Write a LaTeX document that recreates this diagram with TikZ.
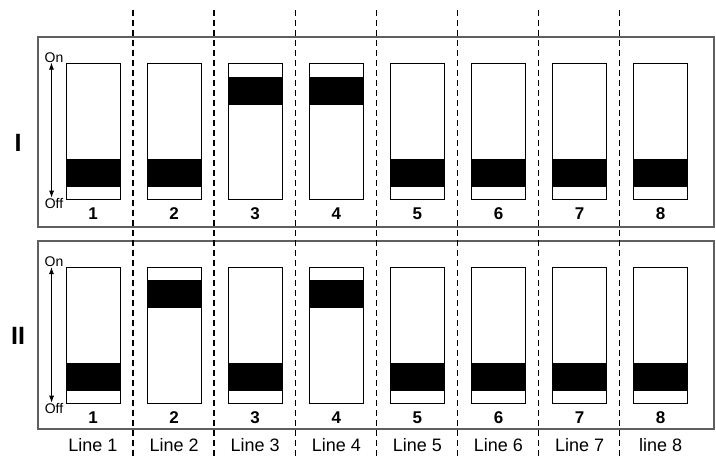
\documentclass[tikz,border=0pt]{standalone}
\usepackage{fontspec}
\setmainfont{Liberation Sans}
\usetikzlibrary{arrows.meta,positioning}
\definecolor{framec}{RGB}{95,95,95}
\tikzset{panel/.style={draw=framec,line width=1.2pt,minimum width=676pt,inner sep=0pt},sw/.style={draw=black,line width=0.8pt,fill=white,minimum width=54pt,minimum height=136pt,inner sep=0pt},knob/.style={fill=black,minimum width=54pt,minimum height=28pt,inner sep=0pt},num/.style={font=\fontsize{17}{17}\selectfont\bfseries,inner sep=0pt},lbl/.style={font=\fontsize{18}{18}\selectfont,inner sep=0pt},tag/.style={font=\fontsize{25}{25}\selectfont\bfseries,inner sep=0pt},onoff/.style={font=\fontsize{14}{14}\selectfont,inner sep=0pt},sep/.style={dash pattern=on 6pt off 4pt,line width=1.3pt},updown/.style={{Latex[length=7pt,width=5pt]}-{Latex[length=7pt,width=5pt]},line width=0.8pt}}

\begin{document}
\begin{tikzpicture}[x=1pt,y=-1pt]
\useasboundingbox (0,0) rectangle (716,456);
\node[panel,minimum height=190pt] (pI) at (376,132) {};
\node[panel,minimum height=188pt] (pII) at (376,335) {};
\node[tag] (tI) at (18,142.5) {I};
\node[tag] (tII) at (18,336) {II};
% on / off arrows
\node[onoff] (onI) at (54,57.5) {On};
\node[onoff] (offI) at (54,203) {Off};
\node[onoff] (onII) at (54,262) {On};
\node[onoff] (offII) at (54,408) {Off};
\draw[updown] ([xshift=7pt]onI.south west) -- ([xshift=7pt]offI.north west);
\draw[updown] ([xshift=7pt]onII.south west) -- ([xshift=7pt]offII.north west);
% switches, 1 = on
\foreach \i/\a/\b/\t in {1/0/0/Line 1,2/0/1/Line 2,3/1/0/Line 3,4/1/1/Line 4,5/0/0/Line 5,6/0/0/Line 6,7/0/0/Line 7,8/0/0/line 8}{
  \node[sw] (swI\i) at ({93+81.1*(\i-1)},131) {};
  \node[sw] (swII\i) at ({93+81.1*(\i-1)},335.5) {};
  \ifnum\a=1 \node[knob,below=14pt of swI\i.north] (kI\i) {};
  \else \node[knob,above=12pt of swI\i.south] (kI\i) {}; \fi
  \ifnum\b=1 \node[knob,below=13pt of swII\i.north] (kII\i) {};
  \else \node[knob,above=13pt of swII\i.south] (kII\i) {}; \fi
  \node[num,below=8pt of swI\i] (nI\i) {\i};
  \node[num,below=8pt of swII\i] (nII\i) {\i};
  \node[lbl,below=14pt of nII\i] (ln\i) {\t};
}
% separators
\foreach \k in {1,...,7}
  \draw[sep] ({133+81.1*(\k-1)},10) -- ({133+81.1*(\k-1)},456);
\end{tikzpicture}
\end{document}
